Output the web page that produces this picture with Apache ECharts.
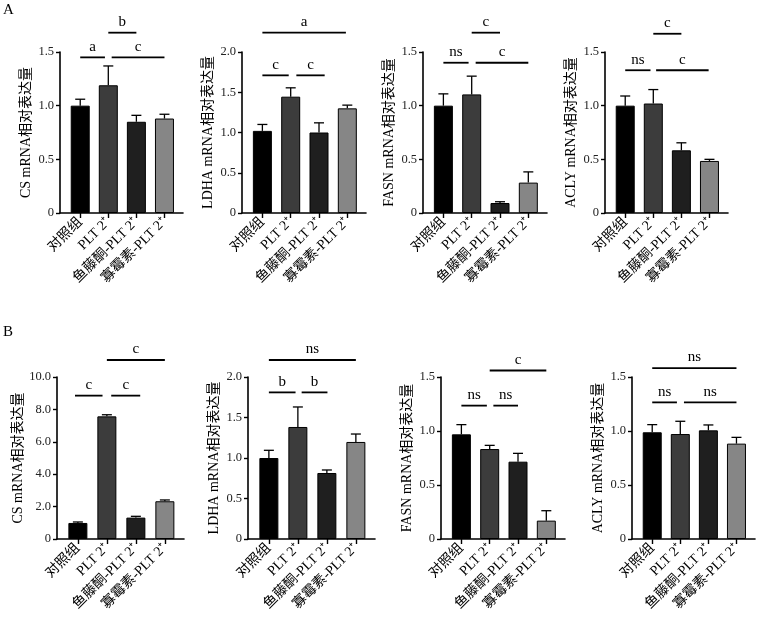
<!DOCTYPE html>
<html>
<head>
<meta charset="utf-8">
<script src="https://cdn.jsdelivr.net/npm/echarts@6/dist/echarts.min.js"></script>
<style>
  html, body { margin: 0; padding: 0; background: #fff; }
  #chart { width: 761px; height: 620px; }
</style>
</head>
<body>
<div id="chart"></div>
<script>
// groups on the x axis
const categories = ['对照组', 'PLT 2⁺', '鱼藤酮-PLT 2⁺', '寡霉素-PLT 2⁺']
const barColors = ['#000000', '#3c3c3c', '#1f1f1f', '#868686']

// row A: means and upper error (SD)
const csA = [1.0, 1.19, 0.85, 0.88]
const csA_sd = [0.06, 0.18, 0.06, 0.04]
const ldhaA = [1.02, 1.445, 1.0, 1.30]
const ldhaA_sd = [0.08, 0.11, 0.12, 0.04]
const fasnA = [1.0, 1.105, 0.093, 0.283]
const fasnA_sd = [0.11, 0.17, 0.012, 0.10]
const aclyA = [1.0, 1.02, 0.584, 0.485]
const aclyA_sd = [0.09, 0.13, 0.07, 0.015]

// row B
const csB = [0.99, 7.57, 1.32, 2.33]
const csB_sd = [0.06, 0.10, 0.08, 0.08]
const ldhaB = [1.0, 1.383, 0.815, 1.198]
const ldhaB_sd = [0.095, 0.247, 0.037, 0.098]
const fasnB = [0.969, 0.833, 0.716, 0.17]
const fasnB_sd = [0.09, 0.034, 0.077, 0.092]
const aclyB = [0.988, 0.972, 1.006, 0.883]
const aclyB_sd = [0.071, 0.118, 0.05, 0.058]

// significance brackets: [from group, to group, level, label]
const csA_sig = [[0, 0.88, 1.45, 'a'], [1.12, 3, 1.45, 'c'], [1, 2, 1.68, 'b']]
const ldhaA_sig = [[0, 0.93, 1.71, 'c'], [1.2, 2.2, 1.71, 'c'], [0, 2.95, 2.24, 'a']]
const fasnA_sig = [[0, 0.89, 1.40, 'ns'], [1.14, 3, 1.40, 'c'], [1, 2, 1.68, 'c']]
const aclyA_sig = [[0, 0.9, 1.33, 'ns'], [1.1, 2.97, 1.33, 'c'], [1, 2, 1.67, 'c']]
const csB_sig = [[-0.1, 0.85, 8.85, 'c'], [1.15, 2.15, 8.85, 'c'], [1, 3, 11.05, 'c']]
const ldhaB_sig = [[0, 0.92, 1.81, 'b'], [1.13, 2.02, 1.81, 'b'], [0, 3, 2.21, 'ns']]
const fasnB_sig = [[0, 0.9, 1.235, 'ns'], [1.13, 2.0, 1.235, 'ns'], [1, 3, 1.56, 'c']]
const aclyB_sig = [[0, 0.88, 1.265, 'ns'], [1.13, 3, 1.265, 'ns'], [0, 3, 1.583, 'ns']]

const panels = [
  { title: 'CS mRNA相对表达量', mean: csA, sd: csA_sd, sig: csA_sig, max: 1.5, step: 0.5 },
  { title: 'LDHA mRNA相对表达量', mean: ldhaA, sd: ldhaA_sd, sig: ldhaA_sig, max: 2.0, step: 0.5 },
  { title: 'FASN mRNA相对表达量', mean: fasnA, sd: fasnA_sd, sig: fasnA_sig, max: 1.5, step: 0.5 },
  { title: 'ACLY mRNA相对表达量', mean: aclyA, sd: aclyA_sd, sig: aclyA_sig, max: 1.5, step: 0.5 },
  { title: 'CS mRNA相对表达量', mean: csB, sd: csB_sd, sig: csB_sig, max: 10, step: 2 },
  { title: 'LDHA mRNA相对表达量', mean: ldhaB, sd: ldhaB_sd, sig: ldhaB_sig, max: 2.0, step: 0.5 },
  { title: 'FASN mRNA相对表达量', mean: fasnB, sd: fasnB_sd, sig: fasnB_sig, max: 1.5, step: 0.5 },
  { title: 'ACLY mRNA相对表达量', mean: aclyB, sd: aclyB_sd, sig: aclyB_sig, max: 1.5, step: 0.5 },
]

// [left, top, width, height]
const layout = [
  [60, 52, 123, 161], [242, 52, 124, 161], [423, 52, 124, 161], [605, 52, 123, 161],
  [57, 377, 127, 162], [248, 377, 127, 162], [441, 377, 124, 162], [632, 377, 123, 162],
]

const serif = "'Liberation Serif', 'Noto Sans CJK SC', serif"

const grid = []
const xAxis = []
const yAxis = []
const series = []

panels.forEach((p, k) => {
  const [left, top, width, height] = layout[k]
  grid.push({ left, top, width, height })

  xAxis.push({
    type: 'value',
    gridIndex: k,
    min: -0.72,
    max: 3.66,
    splitLine: { show: false },
    axisLine: { onZero: false, lineStyle: { color: '#000', width: 1.6 } },
    axisTick: { length: 5, customValues: [0, 1, 2, 3], lineStyle: { color: '#000', width: 1.4 } },
    axisLabel: {
      customValues: [0, 1, 2, 3],
      rotate: 45,
      margin: 7,
      color: '#000',
      fontSize: 14,
      fontFamily: serif,
      formatter: (v) => categories[Math.round(v)],
    },
  })

  yAxis.push({
    type: 'value',
    gridIndex: k,
    min: 0,
    max: p.max,
    interval: p.step,
    splitLine: { show: false },
    axisLine: { show: true, onZero: false, lineStyle: { color: '#000', width: 1.6 } },
    axisTick: { show: true, length: 4, lineStyle: { color: '#000', width: 1.4 } },
    axisLabel: {
      color: '#222',
      fontSize: 12.5,
      fontFamily: serif,
      margin: 6,
      formatter: (v) => (v === 0 ? '0' : v.toFixed(1)),
    },
    name: p.title,
    nameLocation: 'middle',
    nameRotate: 90,
    nameGap: 27,
    nameTextStyle: { color: '#000', fontSize: 14, fontFamily: serif },
  })

  series.push({
    type: 'bar',
    xAxisIndex: k,
    yAxisIndex: k,
    barWidth: 19,
    z: 3,
    data: p.mean.map((m, i) => ({
      value: [i, m],
      itemStyle: { color: barColors[i], borderColor: '#000', borderWidth: 1 },
    })),
  })

  // upper error bars
  series.push({
    type: 'custom',
    xAxisIndex: k,
    yAxisIndex: k,
    z: 2,
    encode: { x: 0, y: [1, 2] },
    data: p.mean.map((m, i) => [i, m, m + p.sd[i]]),
    renderItem(params, api) {
      const a = api.coord([api.value(0), api.value(1)])
      const b = api.coord([api.value(0), api.value(2)])
      const style = { stroke: '#000', lineWidth: 1.3 }
      return {
        type: 'group',
        children: [
          { type: 'line', shape: { x1: a[0], y1: a[1], x2: b[0], y2: b[1] }, style },
          { type: 'line', shape: { x1: b[0] - 5, y1: b[1], x2: b[0] + 5, y2: b[1] }, style },
        ],
      }
    },
  })

  // significance brackets
  series.push({
    type: 'custom',
    xAxisIndex: k,
    yAxisIndex: k,
    clip: false,
    encode: { x: [0, 1], y: 2 },
    data: p.sig.map((s) => [s[0], s[1], s[2]]),
    renderItem(params, api) {
      const s = p.sig[params.dataIndex]
      const a = api.coord([s[0], s[2]])
      const b = api.coord([s[1], s[2]])
      return {
        type: 'group',
        children: [
          {
            type: 'line',
            shape: { x1: a[0], y1: a[1], x2: b[0], y2: b[1] },
            style: { stroke: '#000', lineWidth: 1.8 },
          },
          {
            type: 'text',
            x: (a[0] + b[0]) / 2,
            y: a[1] - 3,
            style: {
              text: s[3],
              align: 'center',
              verticalAlign: 'bottom',
              fontSize: 15,
              fontFamily: serif,
              fill: '#000',
            },
          },
        ],
      }
    },
  })
})

const chart = echarts.init(document.getElementById('chart'), null, { renderer: 'canvas' })
chart.setOption({
  animation: false,
  backgroundColor: '#fff',
  graphic: [
    { type: 'text', left: 3, top: 3, style: { text: 'A', fontSize: 15, fontFamily: serif, fill: '#000' } },
    { type: 'text', left: 3, top: 325, style: { text: 'B', fontSize: 15, fontFamily: serif, fill: '#000' } },
  ],
  grid,
  xAxis,
  yAxis,
  series,
})
</script>
</body>
</html>
